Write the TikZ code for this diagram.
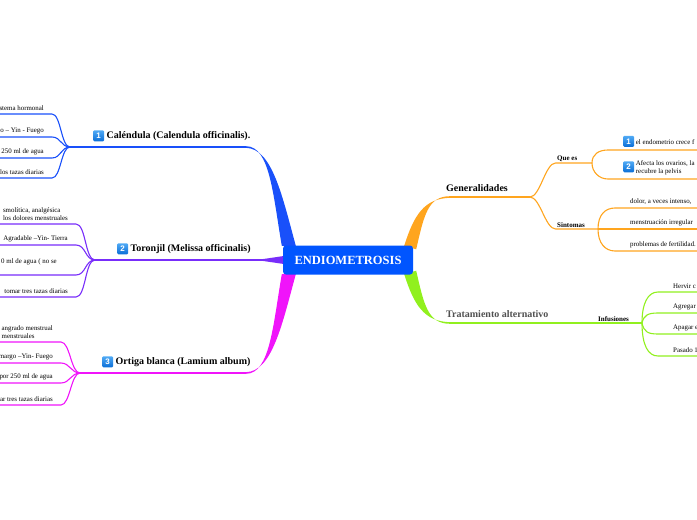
\documentclass[tikz,border=0pt]{standalone}
\usepackage{fontspec}
\setmainfont{Liberation Serif}
\newfontfamily\iconfont{Liberation Sans}
\usetikzlibrary{calc,backgrounds}
\definecolor{rootblue}{RGB}{0,85,255}
\definecolor{calcol}{RGB}{25,80,250}
\definecolor{torcol}{RGB}{120,45,250}
\definecolor{ortcol}{RGB}{240,20,250}
\definecolor{gencol}{RGB}{255,165,30}
\definecolor{tracol}{RGB}{145,240,30}
\definecolor{tratext}{RGB}{80,80,80}
\definecolor{icontop}{RGB}{80,170,245}
\definecolor{iconbot}{RGB}{10,110,215}
\newcommand{\leaffont}{\fontsize{6.9}{8}\selectfont}
\newcommand{\iconnum}[1]{\tikz[baseline=(ib.base)]\node[rounded corners=1.2pt,
  top color=icontop,bottom color=iconbot,text=white,inner sep=0pt,
  font=\fontsize{8}{8}\selectfont\iconfont\bfseries,minimum size=11pt] (ib) {#1};}

\begin{document}
\begin{tikzpicture}[x=1pt,y=-1pt,
  root/.style={fill=rootblue,rounded corners=3pt,text=white,
    font=\fontsize{12.5}{13}\selectfont\bfseries,minimum width=130pt,minimum height=29pt},
  mainlbl/.style={anchor=south west,font=\fontsize{10}{11}\selectfont\bfseries,
    inner xsep=1pt,inner ysep=5.5pt},
  sublbl/.style={anchor=south west,font=\fontsize{7}{8}\selectfont\bfseries,inner sep=1.5pt},
  leafL/.style={anchor=south east,font=\leaffont,align=left,inner xsep=8pt,inner ysep=3pt},
  leafR/.style={anchor=south west,font=\leaffont,align=left,inner xsep=15pt,inner ysep=3pt},
  twig/.style={line width=1.1pt},
  limb/.style={line width=1.5pt}
]
\useasboundingbox (0,0) rectangle (697,520);
\clip (0,0) rectangle (697,520);
\coordinate (west) at (0,0);
\coordinate (east) at (697,0);

\node[root] (root) at (348,260) {ENDIOMETROSIS};

\coordinate (cal) at (70,147);
\coordinate (calk) at (246,147);
\coordinate (tor) at (95,260);
\coordinate (tork) at (262,260);
\coordinate (ort) at (80,373);
\coordinate (ortk) at (246,373);
\coordinate (gen) at (530,197);
\coordinate (genk) at (450,197);
\coordinate (inf) at (642,323);
\coordinate (trak) at (450,323);

\begin{scope}[on background layer]
\fill[calcol] ($(root.north west)+(-1,0.5)$) .. controls (273,195) and (270,146.2)
  .. ($(calk)+(0,-0.8)$) -- ($(calk)+(0,0.8)$) .. controls (272,148.6) and (282,195)
  .. ($(root.north west)+(13,0.5)$) -- cycle;
\fill[ortcol] ($(root.south west)+(-1,-0.5)$) .. controls (273,325) and (270,373.8)
  .. ($(ortk)+(0,0.8)$) -- ($(ortk)+(0,-0.8)$) .. controls (272,371.4) and (282,325)
  .. ($(root.south west)+(13,-0.5)$) -- cycle;
\fill[gencol] ($(root.north east)+(3,4)$) .. controls (424,215) and (428,196.2)
  .. ($(genk)+(0,-0.8)$) -- ($(genk)+(0,0.8)$) .. controls (424,198.6) and (414,215)
  .. ($(root.north east)+(-9,0.5)$) -- cycle;
\fill[tracol] ($(root.south east)+(3,-4)$) .. controls (424,305) and (428,323.8)
  .. ($(trak)+(0,0.8)$) -- ($(trak)+(0,-0.8)$) .. controls (424,321.4) and (414,305)
  .. ($(root.south east)+(-9,-0.5)$) -- cycle;
\fill[torcol] ($(root.west)+(1,-4)$) -- ($(tork)+(0,-0.8)$) -- ($(tork)+(0,0.8)$)
  -- ($(root.west)+(1,4)$) -- cycle;
\end{scope}

\draw[limb,calcol] (cal) -- (calk);
\draw[limb,torcol] (tor) -- (tork);
\draw[limb,ortcol] (ort) -- (ortk);
\draw[limb,gencol] (genk) -- (gen);
\draw[limb,tracol] (trak) -- (inf);

\node[mainlbl] (calt) at (92,147) {\iconnum{1} Caléndula (Calendula officinalis).};
\node[mainlbl] (tort) at (116,260) {\iconnum{2} Toronjil (Melissa officinalis)};
\node[mainlbl] (ortt) at (101,373) {\iconnum{3} Ortiga blanca (Lamium album)};
\node[mainlbl] (gent) at (445,197) {Generalidades};
\node[mainlbl,text=tratext] (trat) at (445,323) {Tratamiento alternativo};

\node[leafL] (c1) at (52,114) {istema hormonal};
\node[leafL] (c2) at (52,137) {o – Yin - Fuego};
\node[leafL] (c3) at (52,158) {250 ml de agua};
\node[leafL] (c4) at (52,178) {los tazas diarias};
\draw[twig,calcol] (cal) .. controls +(-9,0) and +(9,0) .. (c1.south east) -- (c1.south east -| west);
\draw[twig,calcol] (cal) .. controls +(-9,0) and +(9,0) .. (c2.south east) -- (c2.south east -| west);
\draw[twig,calcol] (cal) .. controls +(-9,0) and +(9,0) .. (c3.south east) -- (c3.south east -| west);
\draw[twig,calcol] (cal) .. controls +(-9,0) and +(9,0) .. (c4.south east) -- (c4.south east -| west);

\node[leafL] (t1) at (76,224) {smolítica, analgésica\\los dolores menstruales};
\node[leafL] (t2) at (76,245) {Agradable –Yin- Tierra};
\node[leafL,inner xsep=19pt,inner ysep=10pt] (t3) at (76,275) {0 ml de agua ( no se};
\node[leafL] (t4) at (76,297) {tomar tres tazas diarias};
\draw[twig,torcol] (tor) .. controls +(-10,0) and +(10,0) .. (t1.south east) -- (t1.south east -| west);
\draw[twig,torcol] (tor) .. controls +(-10,0) and +(10,0) .. (t2.south east) -- (t2.south east -| west);
\draw[twig,torcol] (tor) .. controls +(-10,0) and +(10,0) .. (t3.south east) -- (t3.south east -| west);
\draw[twig,torcol] (tor) .. controls +(-10,0) and +(10,0) .. (t4.south east) -- (t4.south east -| west);

\node[leafL] (o1) at (61,342) {angrado menstrual\\menstruales};
\node[leafL] (o2) at (61,363) {margo –Yin- Fuego};
\node[leafL] (o3) at (61,383) {por 250 ml de agua};
\node[leafL] (o4) at (61,405) {ar tres tazas diarias};
\draw[twig,ortcol] (ort) .. controls +(-9,0) and +(9,0) .. (o1.south east) -- (o1.south east -| west);
\draw[twig,ortcol] (ort) .. controls +(-9,0) and +(9,0) .. (o2.south east) -- (o2.south east -| west);
\draw[twig,ortcol] (ort) .. controls +(-9,0) and +(9,0) .. (o3.south east) -- (o3.south east -| west);
\draw[twig,ortcol] (ort) .. controls +(-9,0) and +(9,0) .. (o4.south east) -- (o4.south east -| west);

\node[sublbl] (que) at (555.5,163) {Que es};
\node[sublbl] (sin) at (555.5,229) {Sintomas};
\node[sublbl] (infl) at (596.5,323) {Infusiones};
\coordinate (qbp) at (592,163);
\coordinate (sbp) at (598,229);
\draw[twig,gencol] (gen) .. controls +(10,0) and +(-10,0) .. (que.south west) -- (qbp);
\draw[twig,gencol] (gen) .. controls +(10,0) and +(-10,0) .. (sin.south west) -- (sbp);

\node[leafR] (q1) at (608,150) {\iconnum{1} el endometrio crece f};
\node[leafR] (q2) at (608,179) {\iconnum{2} \begin{tabular}[c]{@{}l@{}}Afecta los ovarios, la\\
  recubre la pelvis\end{tabular}};
\draw[twig,gencol] (qbp) .. controls +(0,-9) and +(-9,0) .. (q1.south west) -- (q1.south west -| east);
\draw[twig,gencol] (qbp) .. controls +(0,9) and +(-9,0) .. (q2.south west) -- (q2.south west -| east);

\node[leafR] (s1) at (615,208) {dolor, a veces intenso,};
\node[leafR] (s2) at (615,229) {menstruación irregular};
\node[leafR] (s3) at (615,251) {problemas de fertilidad.};
\draw[twig,gencol] (sbp) .. controls +(0,-14) and +(-10,0) .. (s1.south west) -- (s1.south west -| east);
\draw[twig,gencol] (sbp) -- (s2.south west) -- (s2.south west -| east);
\draw[twig,gencol] (sbp) .. controls +(0,14) and +(-10,0) .. (s3.south west) -- (s3.south west -| east);

\node[leafR] (i1) at (658,292) {Hervir c};
\node[leafR] (i2) at (658,313) {Agregar};
\node[leafR] (i3) at (658,334) {Apagar e};
\node[leafR] (i4) at (658,356) {Pasado 1};
\draw[twig,tracol] (inf) .. controls +(0,-20) and +(-10,0) .. (i1.south west) -- (i1.south west -| east);
\draw[twig,tracol] (inf) .. controls +(2,-8) and +(-10,0) .. (i2.south west) -- (i2.south west -| east);
\draw[twig,tracol] (inf) .. controls +(2,9) and +(-10,0) .. (i3.south west) -- (i3.south west -| east);
\draw[twig,tracol] (inf) .. controls +(0,22) and +(-10,0) .. (i4.south west) -- (i4.south west -| east);
\end{tikzpicture}
\end{document}
